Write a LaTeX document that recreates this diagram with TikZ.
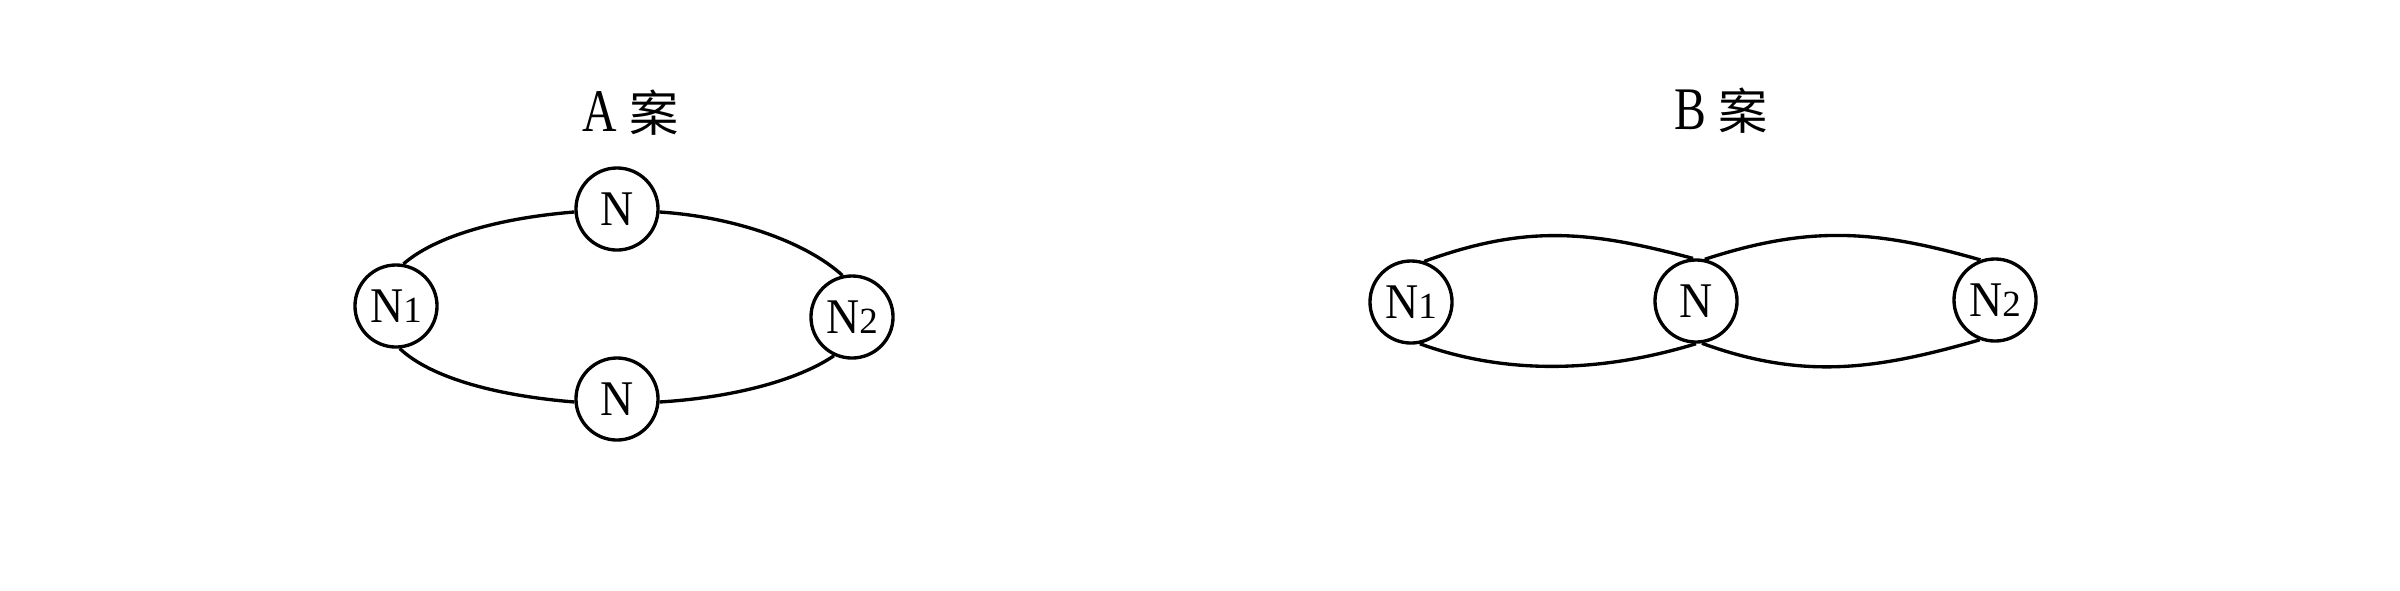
\documentclass[tikz,border=0pt]{standalone}
\usepackage{graphicx}
\usepackage{fontspec}
\setmainfont{Liberation Serif}
\newfontfamily\cjkfont{Noto Sans CJK SC}
\newcommand{\titletext}[1]{{\fontsize{17.2}{19}\selectfont\scalebox{0.79}[1]{#1}}\hspace{3.5pt}{\cjkfont\fontsize{14}{16}\selectfont 案}}
\newcommand{\nlab}[1]{\scalebox{0.92}[1]{N}{\fontsize{10.5}{12}\selectfont #1}}
\tikzset{
  nd/.style={circle, draw, line width=0.95pt, minimum size=0.82cm, inner sep=0pt,
    fill=white, font=\fontsize{14.2}{16}\selectfont},
  link/.style={line width=0.95pt},
  ttl/.style={anchor=base, inner sep=0pt}
}
\begin{document}
\begin{tikzpicture}[x=0.01cm, y=-0.01cm]
\useasboundingbox (0,0) rectangle (2400,590);
% ---- A plan ----
\node[ttl] (ta) at (631,131) {\titletext{A}};
\node[nd] (N1a) at (396,306) {\nlab{1}};
\node[nd] (Nta) at (617,209) {\scalebox{0.92}[1]{N}};
\node[nd] (Nba) at (617,399) {\scalebox{0.92}[1]{N}};
\node[nd] (N2a) at (852,317) {\nlab{2}};
\draw[link] (N1a.80) .. controls +(32.1,-27.9) and +(-75.5,6.1) .. (Nta.184);
\draw[link] (Nta.-4) .. controls +(80.3,5.3) and +(-33.2,-30.8) .. (N2a.103);
\draw[link] (N1a.275) .. controls +(30.9,29.2) and +(-78,-6.3) .. (Nba.184);
\draw[link] (Nba.-4) .. controls +(73.2,-4.4) and +(-35.9,24.5) .. (N2a.245);
% ---- B plan ----
\node[ttl] (tb) at (1721,129) {\titletext{B}};
\node[nd] (N1b) at (1411,302) {\nlab{1}};
\node[nd] (Nb) at (1696,301) {\scalebox{0.92}[1]{N}};
\node[nd] (N2b) at (1995,300) {\nlab{2}};
\draw[link] (N1b.72) .. controls +(101.5,-36.9) and +(-104.3,-27.95) .. (Nb.94);
\draw[link] (N1b.282) .. controls +(89.3,32.5) and +(-90.8,27.8) .. (Nb.270);
\draw[link] (Nb.78) .. controls +(104.6,-34) and +(-105.7,-30.3) .. (N2b.110);
\draw[link] (Nb.278) .. controls +(101.5,36.9) and +(-103.8,29.8) .. (N2b.249);
\end{tikzpicture}
\end{document}
